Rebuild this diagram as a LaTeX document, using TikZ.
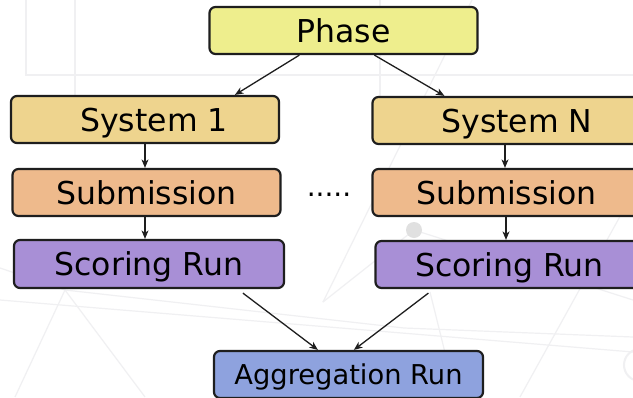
\documentclass[tikz,border=0pt]{standalone}
\usepackage{fontspec}
\setmainfont{DejaVu Sans}
\usetikzlibrary{arrows.meta,calc}

\definecolor{phasefill}{RGB}{238,238,141}
\definecolor{sysfill}{RGB}{238,212,142}
\definecolor{subfill}{RGB}{238,186,140}
\definecolor{scorefill}{RGB}{168,143,214}
\definecolor{aggfill}{RGB}{142,162,222}
\definecolor{edge}{RGB}{30,30,30}
\definecolor{bgline}{RGB}{240,240,242}

\tikzset{
  box/.style={draw=edge, line width=2.2pt, rounded corners=6pt,
    minimum width=268pt, minimum height=47pt, inner sep=0pt,
    text height=23pt, text depth=0pt,
    font=\fontsize{31.5}{34}\selectfont},
  aggbox/.style={box, text height=19.7pt, font=\fontsize{27.3}{30}\selectfont},
  flow/.style={draw=edge, line width=1.3pt,
    -{Stealth[length=8.5pt,width=7pt,inset=2.5pt]}},
  bgl/.style={draw=bgline, line width=1.2pt},
}

\begin{document}
\begin{tikzpicture}[x=1pt,y=-1pt]
\useasboundingbox (0,0) rectangle (633,397);
\fill[white] (0,0) rectangle (633,397);

% faint network pattern in the background
\begin{scope}
  \clip (0,0) rectangle (633,397);
  \draw[bgl] (26,0) -- (26,75) -- (633,75);
  \draw[bgl] (75,0) -- (75,100);
  \draw[bgl] (472,0) -- (323,302);
  \draw[bgl] (380,0) -- (380,110);
  \draw[bgl] (65,290) -- (15,397);
  \draw[bgl] (65,290) -- (145,397);
  \draw[bgl] (65,290) -- (0,268);
  \draw[bgl] (65,290) -- (404,328) -- (633,337);
  \draw[bgl] (0,300) -- (633,352);
  \draw[bgl] (430,292) -- (456,397);
  \draw[bgl] (414,230) -- (323,302);
  \draw[bgl] (414,230) -- (633,300);
  \draw[bgl] (628,202) -- (520,397);
  \fill[black!12] (414,230) circle (8);
  \fill[black!8] (628,202) circle (7);
  \draw[bgl, line width=2pt] (640,365) circle (16);
\end{scope}

% boxes
\node[box, fill=phasefill] (ph) at (343.5,30.5) {Phase\hspace{11pt}};

\node[box, fill=sysfill]   (s1)   at (145,119.5)   {\hspace{18pt}System 1};
\node[box, fill=subfill]   (sub1) at (146.5,192.5) {Submission};
\node[box, fill=scorefill, minimum width=270pt, minimum height=48pt] (sc1) at (149,264) {Scoring Run};

\node[box, fill=sysfill]   (sN)   at (506.5,120.5) {\hspace{21pt}System N};
\node[box, fill=subfill]   (subN) at (506.5,192.5) {Submission};
\node[box, fill=scorefill] (scN)  at (509.5,264.5) {Scoring Run};

\node[aggbox, fill=aggfill, minimum width=269pt] (agg) at (348.5,374.5) {Aggregation Run};

% ellipsis between the two columns
\node[anchor=base, inner sep=0pt, font=\fontsize{28}{30}\selectfont] (dots) at (329,196) {.....};

% connectors
\draw[flow] ($(ph.south west)+(91,0)$) -- ($(s1.north west)+(225,0)$);
\draw[flow] ($(ph.south west)+(166,0)$) -- ($(sN.north west)+(73,0)$);

\draw[flow] (s1.south) -- (s1.south |- sub1.north);
\draw[flow] (sub1.south -| s1.south) -- (s1.south |- sc1.north);
\draw[flow] ($(sN.south)+(-1.5,0)$) -- ($(sN.south |- subN.north)+(-1.5,0)$);
\draw[flow] ($(subN.south)+(-0.5,0)$) -- ($(subN.south |- scN.north)+(-0.5,0)$);

\draw[flow] ($(sc1.south west)+(230,4)$) -- ($(agg.north west)+(105,0)$);
\draw[flow] ($(scN.south west)+(54,4)$) -- ($(agg.north west)+(141,0)$);
\end{tikzpicture}
\end{document}
